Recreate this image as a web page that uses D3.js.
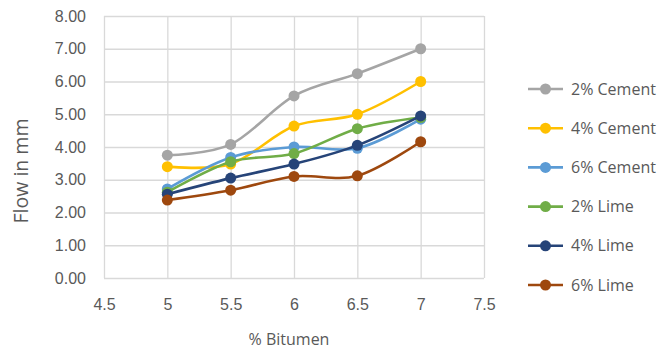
<!DOCTYPE html>
<html>
<head>
<meta charset="utf-8">
<script src="https://cdn.jsdelivr.net/npm/d3@7"></script>
<style>
  body { margin: 0; background: #fff; }
  svg { display: block; font-family: "Open Sans", sans-serif; }
</style>
</head>
<body>
<svg id="chart" width="657" height="354"></svg>
<script>
// Bitumen content (%) on the x axis
const bitumen = [5, 5.5, 6, 6.5, 7];

// Flow (mm) for each additive mix
const seriesNames = ["2% Cement", "4% Cement", "6% Cement", "2% Lime", "4% Lime", "6% Lime"];
const cement2 = [3.75, 4.08, 5.56, 6.24, 7.00];
const cement4 = [3.40, 3.48, 4.64, 5.00, 6.00];
const cement6 = [2.72, 3.68, 4.00, 3.96, 4.85];
const lime2   = [2.62, 3.55, 3.80, 4.56, 4.90];
const lime4   = [2.56, 3.05, 3.48, 4.05, 4.95];
const lime6   = [2.38, 2.68, 3.10, 3.12, 4.16];

const xTicks = [4.5, 5, 5.5, 6, 6.5, 7, 7.5];
const yTicks = [0, 1, 2, 3, 4, 5, 6, 7, 8];

const colors = ["#A5A5A5", "#FFC000", "#5B9BD5", "#70AD47", "#264478", "#9E480E"];
const series = [cement2, cement4, cement6, lime2, lime4, lime6];

const svg = d3.select("#chart");
const x = d3.scaleLinear().domain([4.5, 7.5]).range([104, 484]);
const y = d3.scaleLinear().domain([0, 8]).range([278, 16]);
const textColor = "#595959";
const gridColor = "#D9D9D9";
const tickFont = "16px";

// Gridlines
svg.append("g")
  .attr("transform", `translate(${x.range()[0]},0)`)
  .call(d3.axisLeft(y).tickValues(yTicks).tickSize(-(x.range()[1] - x.range()[0])).tickFormat(""))
  .call(g => g.select(".domain").remove())
  .call(g => g.selectAll("line").attr("stroke", gridColor).attr("stroke-width", 1.3));

svg.append("g")
  .attr("transform", `translate(0,${y.range()[0]})`)
  .call(d3.axisBottom(x).tickValues(xTicks).tickSize(-(y.range()[0] - y.range()[1])).tickFormat(""))
  .call(g => g.select(".domain").remove())
  .call(g => g.selectAll("line").attr("stroke", gridColor).attr("stroke-width", 1.3));

// Tick labels
svg.append("g")
  .attr("transform", `translate(${x.range()[0]},0)`)
  .call(d3.axisLeft(y).tickValues(yTicks).tickSize(0).tickPadding(18).tickFormat(d3.format(".2f")))
  .call(g => g.select(".domain").remove())
  .call(g => g.selectAll("text").attr("fill", textColor).style("font-size", tickFont));

svg.append("g")
  .attr("transform", `translate(0,${y.range()[0]})`)
  .call(d3.axisBottom(x).tickValues(xTicks).tickSize(0).tickPadding(21).tickFormat(d3.format("")))
  .call(g => g.select(".domain").remove())
  .call(g => g.selectAll("text").attr("fill", textColor).style("font-size", tickFont));

// Axis titles
svg.append("text")
  .attr("transform", "translate(28,171) rotate(-90)")
  .attr("text-anchor", "middle")
  .attr("fill", textColor)
  .style("font-size", "19.5px")
  .text("Flow in mm");

svg.append("text")
  .attr("x", 289).attr("y", 345)
  .attr("text-anchor", "middle")
  .attr("fill", textColor)
  .style("font-size", "16px")
  .text("% Bitumen");

// Series lines and markers
const line = d3.line()
  .x((d, i) => x(bitumen[i]))
  .y(d => y(d))
  .curve(d3.curveCatmullRom.alpha(0));

series.forEach((vals, k) => {
  const g = svg.append("g");
  g.append("path")
    .attr("d", line(vals))
    .attr("fill", "none")
    .attr("stroke", colors[k])
    .attr("stroke-width", 2.6)
    .attr("stroke-linejoin", "round");
  g.selectAll("circle")
    .data(vals)
    .join("circle")
    .attr("cx", (d, i) => x(bitumen[i]))
    .attr("cy", d => y(d))
    .attr("r", 5.5)
    .attr("fill", colors[k]);
});

// Legend
const legend = svg.append("g");
seriesNames.forEach((name, k) => {
  const ly = 89 + k * 39.2;
  legend.append("line")
    .attr("x1", 528).attr("x2", 563)
    .attr("y1", ly).attr("y2", ly)
    .attr("stroke", colors[k]).attr("stroke-width", 2.6);
  legend.append("circle")
    .attr("cx", 545.5).attr("cy", ly).attr("r", 5.5)
    .attr("fill", colors[k]);
  legend.append("text")
    .attr("x", 571).attr("y", ly)
    .attr("dy", "0.35em")
    .attr("fill", textColor)
    .style("font-size", tickFont)
    .text(name);
});
</script>
</body>
</html>
